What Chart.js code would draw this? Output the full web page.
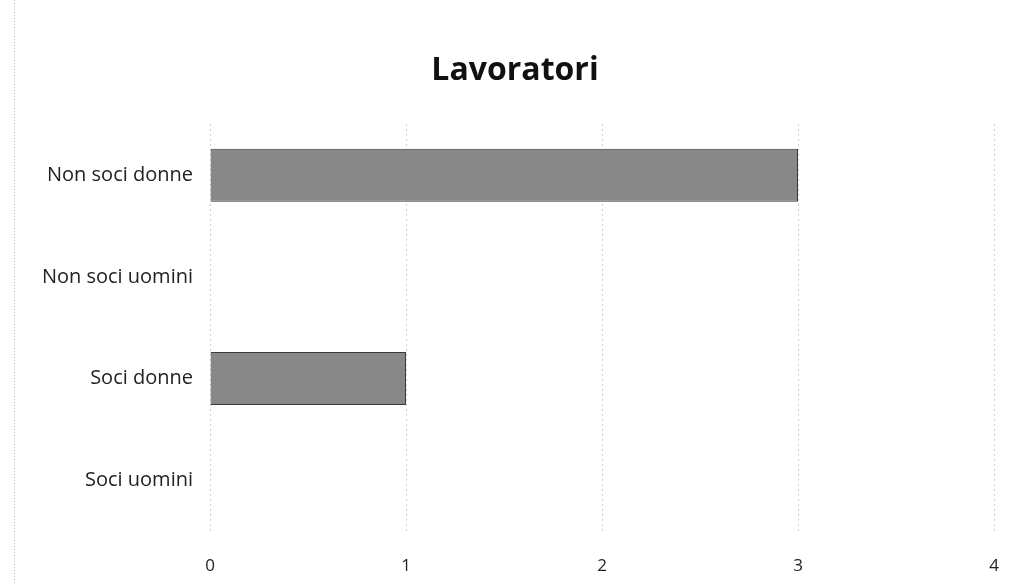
<!DOCTYPE html>
<html>
<head>
<meta charset="utf-8">
<script src="https://cdn.jsdelivr.net/npm/chart.js@4/dist/chart.umd.min.js"></script>
<style>
  html, body { margin: 0; padding: 0; background: #fff; overflow: hidden; }
  #wrap { width: 1020px; height: 585px; position: relative; }
  canvas { display: block; }
</style>
</head>
<body>
<div id="wrap"><canvas id="c" width="1020" height="585"></canvas></div>
<script>
const categories = ["Non soci donne", "Non soci uomini", "Soci donne", "Soci uomini"];
const values = [3, 0, 1, 0];
const titleText = "Lavoratori";
const xMin = 0, xMax = 4, xStep = 1;

const leftBorder = {
  id: 'leftBorder',
  beforeDraw(chart) {
    const ctx = chart.ctx;
    ctx.save();
    ctx.strokeStyle = '#b5b5b5';
    ctx.setLineDash([1, 2]);
    ctx.lineWidth = 1;
    ctx.beginPath();
    ctx.moveTo(14.5, 0);
    ctx.lineTo(14.5, 585);
    ctx.stroke();
    ctx.restore();
  }
};

const FONT = "'Open Sans', 'Liberation Sans', sans-serif";

new Chart(document.getElementById('c'), {
  type: 'bar',
  data: {
    labels: categories,
    datasets: [{
      data: values,
      backgroundColor: '#888888',
      borderColor: '#3a3a3a',
      borderWidth: 1,
      barPercentage: 0.52,
      categoryPercentage: 1.0
    }]
  },
  options: {
    indexAxis: 'y',
    responsive: false,
    animation: false,
    layout: { padding: { left: 36, right: 26, top: 0, bottom: 0 } },
    plugins: {
      legend: { display: false },
      tooltip: { enabled: false },
      title: {
        display: true,
        text: titleText,
        color: '#111',
        font: { family: FONT, size: 32, weight: 'bold' },
        padding: { top: 52, bottom: 34 }
      }
    },
    scales: {
      x: {
        min: xMin, max: xMax,
        afterFit(scale) { scale.height = 54; scale.paddingRight = 0; scale.paddingLeft = 0; },
        ticks: {
          stepSize: xStep,
          color: '#222',
          padding: 25,
          font: { family: FONT, size: 17 }
        },
        grid: {
          color: '#a0a0a0',
          lineWidth: 1,
          drawTicks: false
        },
        border: { display: false, dash: [1, 4] }
      },
      y: {
        afterFit(scale) { scale.width = 174; },
        ticks: {
          color: '#222',
          padding: 17,
          font: { family: FONT, size: 20 }
        },
        grid: { display: false, drawTicks: false },
        border: { display: false }
      }
    }
  },
  plugins: [leftBorder]
});
</script>
</body>
</html>
